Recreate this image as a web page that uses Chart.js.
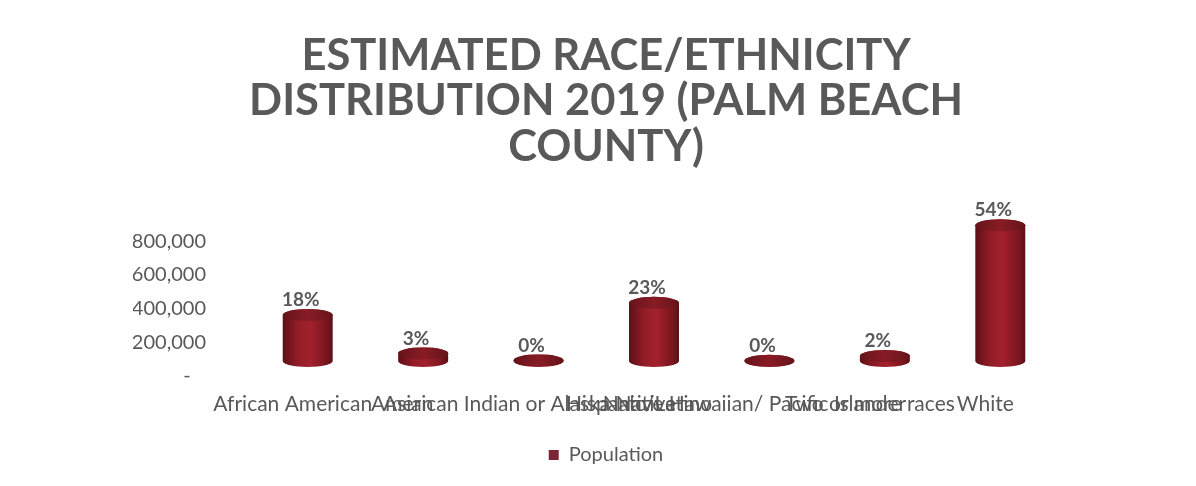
<!DOCTYPE html>
<html>
<head>
<meta charset="utf-8">
<title>Estimated Race/Ethnicity Distribution 2019</title>
<script src="https://cdn.jsdelivr.net/npm/chart.js@4.4.1/dist/chart.umd.min.js"></script>
<style>
  html, body { margin: 0; padding: 0; background: #fff; }
</style>
</head>
<body>
<canvas id="raceChart" width="1196" height="486"></canvas>
<script>
const groups = ["African American", "Asian", "American Indian or Alaska Native", "Hispanic/Latino",
  "Native Hawaiian/ Pacific Islander", "Two or more races", "White"];
const population = [273000, 45000, 3500, 345000, 1000, 30000, 805000];
const yTicks = [0, 200000, 400000, 600000, 800000];
const titleLines = ["ESTIMATED RACE/ETHNICITY", "DISTRIBUTION 2019 (PALM BEACH", "COUNTY)"];

const total = population.reduce((a, b) => a + b, 0);
const gray = "#595959";
const maroon = "#7b2434";

// the cylinders stand a bit back on the floor: up and right of their slot
const depthX = 15, depthY = 15;

const cylinders = {
  id: "cylinders",
  beforeDatasetsDraw(chart) {
    const ctx = chart.ctx;
    const meta = chart.getDatasetMeta(0);
    meta.data.forEach((bar, i) => {
      const r = bar.width / 2, ry = 6;
      const cx = bar.x + depthX;
      const top = bar.y - depthY;
      const bottom = bar.base - depthY;
      const left = cx - r;

      const body = ctx.createLinearGradient(left, 0, left + 2 * r, 0);
      body.addColorStop(0, "#5c1016");
      body.addColorStop(0.3, "#921c27");
      body.addColorStop(0.55, "#a2212d");
      body.addColorStop(0.85, "#7d161f");
      body.addColorStop(1, "#5c1016");

      ctx.save();
      ctx.fillStyle = body;
      ctx.beginPath();
      ctx.ellipse(cx, bottom, r, ry, 0, 0, Math.PI);
      ctx.lineTo(left, top);
      ctx.ellipse(cx, top, r, ry, 0, Math.PI, 2 * Math.PI);
      ctx.closePath();
      ctx.fill();

      // top cap
      const cap = ctx.createLinearGradient(left, 0, left + 2 * r, 0);
      cap.addColorStop(0, "#661419");
      cap.addColorStop(0.5, "#881c26");
      cap.addColorStop(1, "#661419");
      ctx.fillStyle = cap;
      ctx.beginPath();
      ctx.ellipse(cx, top, r, ry, 0, 0, 2 * Math.PI);
      ctx.fill();

      // share of total above each cylinder
      ctx.fillStyle = gray;
      ctx.font = "bold 19px Lato";
      ctx.textAlign = "center";
      ctx.textBaseline = "middle";
      const pct = Math.round(population[i] / total * 100) + "%";
      ctx.fillText(pct, bar.x + 8, top - ry - 9);
      ctx.restore();
    });
    return false;
  }
};

new Chart(document.getElementById("raceChart"), {
  type: "bar",
  data: {
    labels: groups,
    datasets: [{
      label: "Population",
      data: population,
      backgroundColor: maroon,
      categoryPercentage: 1,
      barPercentage: 0.433
    }]
  },
  options: {
    responsive: false,
    animation: false,
    layout: { padding: { left: 133, right: 117, top: 0, bottom: 11 } },
    scales: {
      x: {
        grid: { display: false, drawTicks: false },
        border: { display: false },
        afterFit: s => { s.height = 59; },
        ticks: {
          autoSkip: false, maxRotation: 0, minRotation: 0, padding: 16,
          color: gray, font: { family: "Lato", size: 21 }
        }
      },
      y: {
        min: 0,
        max: 1000000,
        afterBuildTicks: s => { s.ticks = yTicks.map(v => ({ value: v })); },
        afterFit: s => { s.width = 102; },
        grid: { display: false, drawTicks: false },
        border: { display: false },
        ticks: {
          padding: 29, color: gray, font: { family: "Lato", size: 20 },
          callback: v => v === 0 ? "-   " : v.toLocaleString("en-US")
        }
      },
      // empty right-hand margin beside the floor
      yRight: {
        position: "right",
        display: true,
        grid: { display: false, drawTicks: false },
        border: { display: false },
        ticks: { display: false },
        afterFit: s => { s.width = 36; }
      }
    },
    plugins: {
      title: {
        display: true,
        text: titleLines,
        color: gray,
        font: { family: "Lato", size: 43.5, weight: "bold", lineHeight: 1.046 },
        padding: { top: 33, bottom: 38 }
      },
      legend: {
        position: "bottom",
        labels: {
          boxWidth: 10, boxHeight: 10, padding: 10,
          color: gray, font: { family: "Lato", size: 20 }
        }
      },
      tooltip: { enabled: false }
    }
  },
  plugins: [cylinders]
});
</script>
</body>
</html>
